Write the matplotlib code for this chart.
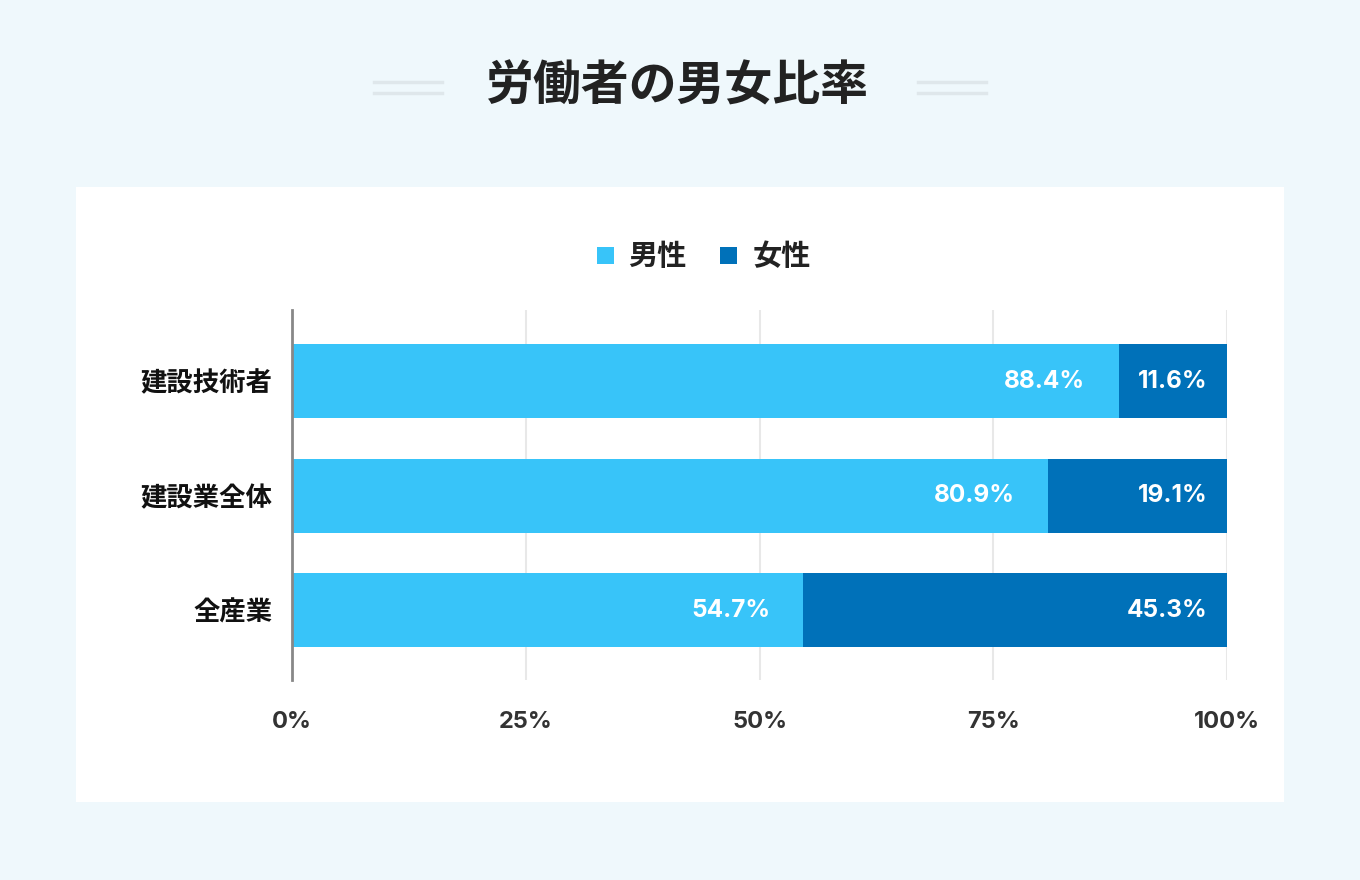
import matplotlib.pyplot as plt
from matplotlib.patches import Rectangle
from matplotlib.lines import Line2D

categories = ['建設技術者', '建設業全体', '全産業']
male = [88.4, 80.9, 54.7]
female = [11.6, 19.1, 45.3]
xticks = [0, 25, 50, 75, 100]
xtick_labels = ['0%', '25%', '50%', '75%', '100%']
series_names = ['男性', '女性']

LIGHT = '#38C4F9'
DARK = '#0071B9'
BG = '#EFF8FC'
JP = ['Noto Sans CJK JP', 'DejaVu Sans']
NUM = ['Inter', 'Noto Sans CJK JP', 'DejaVu Sans']

W, H = 1360, 880
fig = plt.figure(figsize=(W / 100, H / 100), dpi=100, facecolor=BG)


def fx(px):
    return px / W


def fy(py):
    return 1 - py / H


# white panel
fig.add_artist(Rectangle((fx(76), fy(802)), fx(1284) - fx(76), fy(187) - fy(802),
                         transform=fig.transFigure, facecolor='white', edgecolor='none', zorder=0))

# title with decorative double lines
fig.text(fx(677), fy(86), '労働者の男女比率', ha='center', va='center',
         fontsize=34.5, fontweight='bold', color='#222222', family=JP)
for x0, x1 in [(374, 442), (918, 986)]:
    for yy in [82, 93]:
        fig.add_artist(Line2D([fx(x0), fx(x1)], [fy(yy), fy(yy)], transform=fig.transFigure,
                              color='#DFE7EB', lw=2.5))

# legend
for (sx, tx), name, col in zip([(597, 628), (720, 753)], series_names, [LIGHT, DARK]):
    fig.add_artist(Rectangle((fx(sx), fy(264)), fx(17), 17 / H, transform=fig.transFigure,
                             facecolor=col, edgecolor='none'))
    fig.text(fx(tx), fy(256), name, ha='left', va='center', fontsize=21,
             fontweight='bold', color='#222222', family=JP)

ax = fig.add_axes([fx(292), fy(680), fx(1227) - fx(292), fy(310) - fy(680)])
ax.set_facecolor('none')

ypos = list(range(len(categories)))
ax.barh(ypos, male, height=0.645, color=LIGHT, zorder=2)
ax.barh(ypos, female, left=male, height=0.645, color=DARK, zorder=2)

for y, m, f in zip(ypos, male, female):
    ax.annotate(f'{m:.1f}%', xy=(m, y), xytext=(-24, 0), textcoords='offset points',
                ha='right', va='center', color='white', fontsize=17.5, fontweight='bold',
                family=NUM, zorder=3)
    ax.annotate(f'{f:.1f}%', xy=(m + f, y), xytext=(-14, 0), textcoords='offset points',
                ha='right', va='center', color='white', fontsize=17.5, fontweight='bold',
                family=NUM, zorder=3)

ax.set_xlim(0, 100)
ax.set_ylim(2.61, -0.62)
ax.set_xticks(xticks)
ax.set_xticklabels(xtick_labels, fontsize=17, fontweight='bold', color='#333333', family=NUM)
ax.set_yticks(ypos)
ax.set_yticklabels(categories, fontsize=19, fontweight='bold', color='#111111', family=JP)
ax.tick_params(axis='both', length=0)
ax.tick_params(axis='x', pad=22)
ax.tick_params(axis='y', pad=14)

for x in xticks[1:]:
    ax.axvline(x, color='#E8E8E8', lw=1.5, zorder=1)
for s in ['top', 'right', 'bottom']:
    ax.spines[s].set_visible(False)
ax.spines['left'].set_color('#888888')
ax.spines['left'].set_linewidth(2)
ax.spines['left'].set_zorder(4)

fig.savefig('out.png', dpi=100, facecolor=BG)
